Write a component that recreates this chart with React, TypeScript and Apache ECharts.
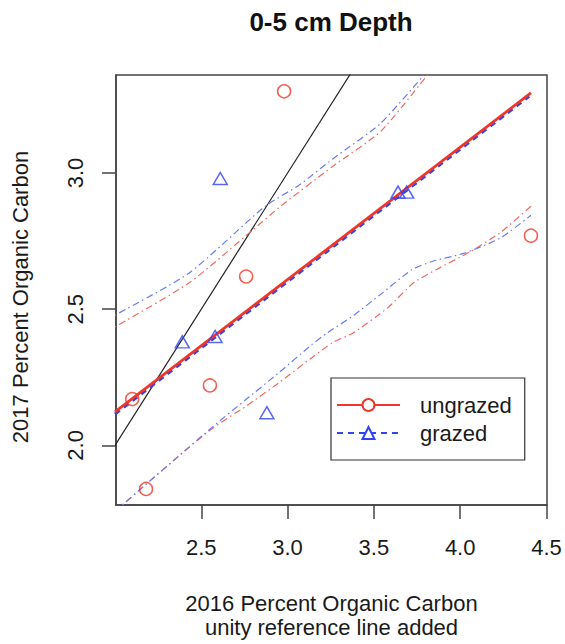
import React, { useEffect, useRef } from "react";
import * as echarts from "echarts";

// Observed points
const ungrazedX = [2.10, 2.18, 2.55, 2.76, 2.98, 4.41];
const ungrazedY = [2.17, 1.84, 2.22, 2.62, 3.30, 2.77];
const grazedX = [2.39, 2.58, 2.61, 2.88, 3.64, 3.69];
const grazedY = [2.38, 2.40, 2.98, 2.12, 2.93, 2.93];

// Fitted regression lines
const fitUngrazedX = [2.0, 4.41];
const fitUngrazedY = [2.123, 3.294];
const fitGrazedX = [2.0, 4.40];
const fitGrazedY = [2.115, 3.282];

// Confidence bands
const upperUngrazedX = [2.0, 2.43, 2.80, 2.96, 3.26, 3.54, 3.81];
const upperUngrazedY = [2.435, 2.597, 2.792, 2.878, 3.024, 3.153, 3.36];
const upperGrazedX = [2.0, 2.43, 2.87, 3.07, 3.26, 3.54, 3.79];
const upperGrazedY = [2.478, 2.633, 2.878, 2.957, 3.051, 3.183, 3.36];
const lowerUngrazedX = [2.043, 2.18, 2.37, 2.56, 2.76, 2.95, 3.14, 3.26, 3.38, 3.58, 3.73, 3.86, 4.06, 4.23, 4.41];
const lowerUngrazedY = [1.781, 1.857, 1.961, 2.060, 2.144, 2.230, 2.322, 2.377, 2.413, 2.505, 2.597, 2.645, 2.712, 2.780, 2.878];
const lowerGrazedX = [2.043, 2.18, 2.37, 2.56, 2.76, 2.95, 3.14, 3.23, 3.38, 3.55, 3.72, 3.84, 4.02, 4.23, 4.41];
const lowerGrazedY = [1.781, 1.857, 1.961, 2.065, 2.169, 2.267, 2.370, 2.413, 2.476, 2.560, 2.645, 2.676, 2.705, 2.760, 2.845];

// Unity reference line
const unityX = [1.9, 3.5];

// Axes
const xMin = 2.006;
const xMax = 4.503;
const yMin = 1.781;
const yMax = 3.36;
const xTicks = [2.5, 3.0, 3.5, 4.0, 4.5];
const yTicks = [2.0, 2.5, 3.0];

const zip = (xs: number[], ys: number[]) => xs.map((x, i) => [x, ys[i]]);

const RED = "#f0362b";
const BLUE = "#3044f2";
const RED_BAND = "#f06a62";
const BLUE_BAND = "#6a7af2";
const FONT = "Liberation Sans, Arial, sans-serif";

export default function App() {
  const ref = useRef<HTMLDivElement>(null);
  useEffect(() => {
    document.body.style.margin = "0";
    const chart = echarts.init(ref.current!, null, { renderer: "svg" });
    const bandStyle = (color: string) => ({
      color,
      width: 1.2,
      type: [1.5, 3.5, 7, 3.5],
    });
    const bandSeries = (name: string, xs: number[], ys: number[], color: string) => ({
      name,
      type: "line",
      data: zip(xs, ys),
      showSymbol: false,
      symbol: "none",
      smooth: 0.2,
      clip: true,
      lineStyle: bandStyle(color),
      itemStyle: { color },
      silent: true,
      z: 2,
    });
    chart.setOption({
      animation: false,
      backgroundColor: "#ffffff",
      textStyle: { fontFamily: FONT },
      title: {
        text: "0-5 cm Depth",
        left: 331,
        textAlign: "center",
        top: 9,
        padding: 0,
        textStyle: { fontSize: 26, fontWeight: "bold", color: "#111", fontFamily: FONT },
      },
      legend: {
        orient: "vertical",
        left: 331,
        top: 378,
        padding: [16, 13, 16, 5],
        itemWidth: 63,
        itemHeight: 15,
        itemGap: 6,
        borderColor: "#333",
        borderWidth: 1.2,
        data: ["ungrazed", "grazed"],
        textStyle: { fontSize: 22, color: "#1a1a1a", fontFamily: FONT, padding: [0, 0, 0, 15] },
      },
      grid: {
        left: 116,
        right: 18,
        top: 75,
        bottom: 138,
        show: true,
        borderColor: "#444",
        borderWidth: 1.5,
        backgroundColor: "transparent",
      },
      xAxis: {
        type: "value",
        min: xMin,
        max: xMax,
        name: "2016 Percent Organic Carbon\nunity reference line added",
        nameLocation: "middle",
        nameGap: 86,
        nameTextStyle: { fontSize: 22, lineHeight: 24, color: "#1a1a1a", fontFamily: FONT },
        axisLine: { show: true, lineStyle: { color: "#444", width: 1.5 } },
        axisTick: { show: true, length: 14, customValues: xTicks, lineStyle: { color: "#444", width: 1.5 } },
        axisLabel: {
          customValues: xTicks,
          margin: 31,
          fontSize: 22,
          color: "#1a1a1a",
          fontFamily: FONT,
          formatter: (v: number) => v.toFixed(1),
        },
        splitLine: { show: false },
      },
      yAxis: {
        type: "value",
        min: yMin,
        max: yMax,
        name: "2017 Percent Organic Carbon",
        nameLocation: "middle",
        nameGap: 85,
        nameTextStyle: { fontSize: 22, color: "#1a1a1a", fontFamily: FONT, padding: [0, 14, 0, 0] },
        axisLine: { show: true, lineStyle: { color: "#444", width: 1.5 } },
        axisTick: { show: true, length: 14, customValues: yTicks, lineStyle: { color: "#444", width: 1.5 } },
        axisLabel: {
          customValues: yTicks,
          rotate: 90,
          margin: 30,
          fontSize: 22,
          color: "#1a1a1a",
          fontFamily: FONT,
          formatter: (v: number) => v.toFixed(1),
        },
        splitLine: { show: false },
      },
      series: [
        {
          name: "unity",
          type: "line",
          data: unityX.map((v) => [v, v]),
          showSymbol: false,
          symbol: "none",
          clip: true,
          silent: true,
          lineStyle: { color: "#222", width: 1.2 },
          itemStyle: { color: "#222" },
          z: 2,
        },
        bandSeries("upper ungrazed", upperUngrazedX, upperUngrazedY, RED_BAND),
        bandSeries("lower ungrazed", lowerUngrazedX, lowerUngrazedY, RED_BAND),
        bandSeries("upper grazed", upperGrazedX, upperGrazedY, BLUE_BAND),
        bandSeries("lower grazed", lowerGrazedX, lowerGrazedY, BLUE_BAND),
        {
          name: "grazed",
          type: "line",
          data: zip(fitGrazedX, fitGrazedY),
          symbol: "emptyTriangle",
          showSymbol: false,
          clip: true,
          silent: true,
          lineStyle: { color: BLUE, width: 3, type: [6, 5] },
          itemStyle: { color: BLUE },
          z: 3,
        },
        {
          name: "ungrazed",
          type: "line",
          data: zip(fitUngrazedX, fitUngrazedY),
          symbol: "emptyCircle",
          showSymbol: false,
          clip: true,
          silent: true,
          lineStyle: { color: RED, width: 2.8 },
          itemStyle: { color: RED },
          z: 4,
        },
        {
          name: "ungrazed points",
          type: "scatter",
          data: zip(ungrazedX, ungrazedY),
          symbol: "circle",
          symbolSize: 13,
          itemStyle: { color: "transparent", borderColor: RED, borderWidth: 1.5 },
          z: 5,
        },
        {
          name: "grazed points",
          type: "scatter",
          data: zip(grazedX, grazedY),
          symbol: "triangle",
          symbolSize: [14, 12],
          itemStyle: { color: "transparent", borderColor: BLUE, borderWidth: 1.5 },
          z: 5,
        },
      ],
    });
    return () => chart.dispose();
  }, []);
  return <div ref={ref} style={{ width: 565, height: 644 }} />;
}
